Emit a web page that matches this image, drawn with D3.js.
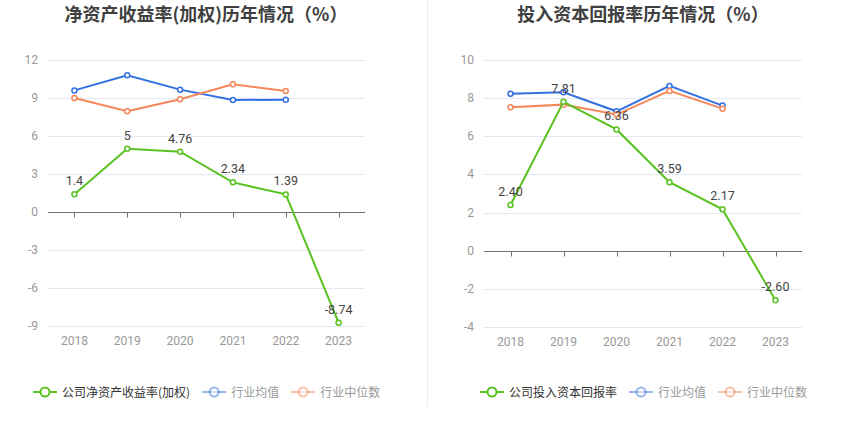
<!DOCTYPE html>
<html><head><meta charset="utf-8">
<script src="https://cdn.jsdelivr.net/npm/d3@7"></script>
<style>body{margin:0;background:#fff;}svg{display:block;font-family:"Noto Sans CJK SC","Noto Sans",sans-serif;}</style>
</head><body>
<svg id="c" width="850" height="436"></svg>
<script>
const years = ["2018","2019","2020","2021","2022","2023"];
// Left chart: ROE (weighted)
const roeCompany = [1.4, 5, 4.76, 2.34, 1.39, -8.74];
const roeCompanyLabels = ["1.4","5","4.76","2.34","1.39","-8.74"];
const roeAvg = [9.6, 10.8, 9.66, 8.84, 8.87];
const roeMedian = [9.0, 7.95, 8.9, 10.08, 9.55];
const roeTicks = [-9, -6, -3, 0, 3, 6, 9, 12];
// Right chart: ROIC
const roicCompany = [2.40, 7.81, 6.36, 3.59, 2.17, -2.60];
const roicCompanyLabels = ["2.40","7.81","6.36","3.59","2.17","-2.60"];
const roicAvg = [8.23, 8.31, 7.31, 8.64, 7.61];
const roicMedian = [7.52, 7.66, 7.14, 8.38, 7.45];
const roicTicks = [-4, -2, 0, 2, 4, 6, 8, 10];

const COL_G = "#5ac220", COL_B = "#3471e0", COL_O = "#f5875a";
const svg = d3.select("#c");

svg.append("line").attr("x1",427.5).attr("x2",427.5).attr("y1",0).attr("y2",407)
  .attr("stroke","#eeeeee").attr("stroke-width",1);

function panel(o){
  const g = svg.append("g");
  const x = d3.scaleBand().domain(years).range([o.x0,o.x1]);
  const y = d3.scaleLinear().domain([o.ticks[0], o.ticks[o.ticks.length-1]]).range([o.yb,o.yt]);
  const cx = d => x(d)+x.bandwidth()/2;
  // title
  g.append("text").attr("x",o.tx).attr("y",21).attr("text-anchor","middle")
    .attr("font-size",18).attr("font-weight","bold").attr("fill","#404040").text(o.title);
  // grid
  g.selectAll(".gl").data(o.ticks.filter(t=>t!==0)).enter().append("line")
    .attr("x1",o.x0).attr("x2",o.x1).attr("y1",d=>Math.round(y(d))+0.5).attr("y2",d=>Math.round(y(d))+0.5)
    .attr("stroke","#e3e8f4").attr("stroke-width",1);
  // y labels
  g.selectAll(".yl").data(o.ticks).enter().append("text")
    .attr("x",o.x0-10).attr("y",d=>y(d)+4).attr("text-anchor","end")
    .attr("font-size",12).attr("fill","#999").attr("font-family","Roboto, sans-serif").text(d=>d);
  // zero axis
  const y0 = Math.round(y(0))+0.5;
  g.append("line").attr("x1",o.x0).attr("x2",o.x1).attr("y1",y0).attr("y2",y0).attr("stroke","#6e7079");
  g.selectAll(".tk").data(years).enter().append("line")
    .attr("x1",d=>Math.round(cx(d))+0.5).attr("x2",d=>Math.round(cx(d))+0.5)
    .attr("y1",y0).attr("y2",y0+5).attr("stroke","#6e7079");
  // x labels
  g.selectAll(".xl").data(years).enter().append("text")
    .attr("x",cx).attr("y",o.yb+19).attr("text-anchor","middle")
    .attr("font-size",12).attr("fill","#999").attr("font-family","Roboto, sans-serif").text(d=>d);
  // lines
  const line = d3.line().x((d,i)=>cx(years[i])).y(d=>y(d));
  [[o.avg,COL_B],[o.med,COL_O],[o.comp,COL_G]].forEach(([data,col])=>{
    g.append("path").attr("d",line(data)).attr("fill","none").attr("stroke",col).attr("stroke-width",2);
    g.selectAll(null).data(data).enter().append("circle")
      .attr("cx",(d,i)=>cx(years[i])).attr("cy",d=>y(d)).attr("r",2.5)
      .attr("fill","#fff").attr("stroke",col).attr("stroke-width",1.5);
  });
  // labels
  g.selectAll(".lb").data(o.comp).enter().append("text")
    .attr("x",(d,i)=>cx(years[i])).attr("y",d=>y(d)-9).attr("text-anchor","middle")
    .attr("font-size",12.5).attr("fill","#444").attr("font-family","Roboto, sans-serif").text((d,i)=>o.labels[i]);
  // legend
  const items = [[o.legName,COL_G,"#333",1],["行业均值",COL_B,"#999",0.5],["行业中位数",COL_O,"#999",0.5]];
  let lx = o.lx;
  items.forEach(([name,col,tc,op])=>{
    const lg = g.append("g");
    lg.append("line").attr("x1",lx).attr("x2",lx+24).attr("y1",392).attr("y2",392)
      .attr("stroke",col).attr("stroke-width",2).attr("opacity",op);
    lg.append("circle").attr("cx",lx+12).attr("cy",392).attr("r",4.5).attr("fill","#fff")
      .attr("stroke",col).attr("stroke-width",2).attr("opacity",op);
    const t = lg.append("text").attr("x",lx+29).attr("y",396.5).attr("font-size",12).attr("fill",tc).text(name);
    lx += 29 + t.node().getComputedTextLength() + 12;
  });
}

panel({x0:48,x1:365,yt:60,yb:326,ticks:roeTicks,comp:roeCompany,labels:roeCompanyLabels,avg:roeAvg,med:roeMedian,
  title:"净资产收益率(加权)历年情况（%）",tx:206,legName:"公司净资产收益率(加权)",lx:33});
panel({x0:484,x1:802,yt:60,yb:327,ticks:roicTicks,comp:roicCompany,labels:roicCompanyLabels,avg:roicAvg,med:roicMedian,
  title:"投入资本回报率历年情况（%）",tx:643,legName:"公司投入资本回报率",lx:480});
</script>
</body></html>
